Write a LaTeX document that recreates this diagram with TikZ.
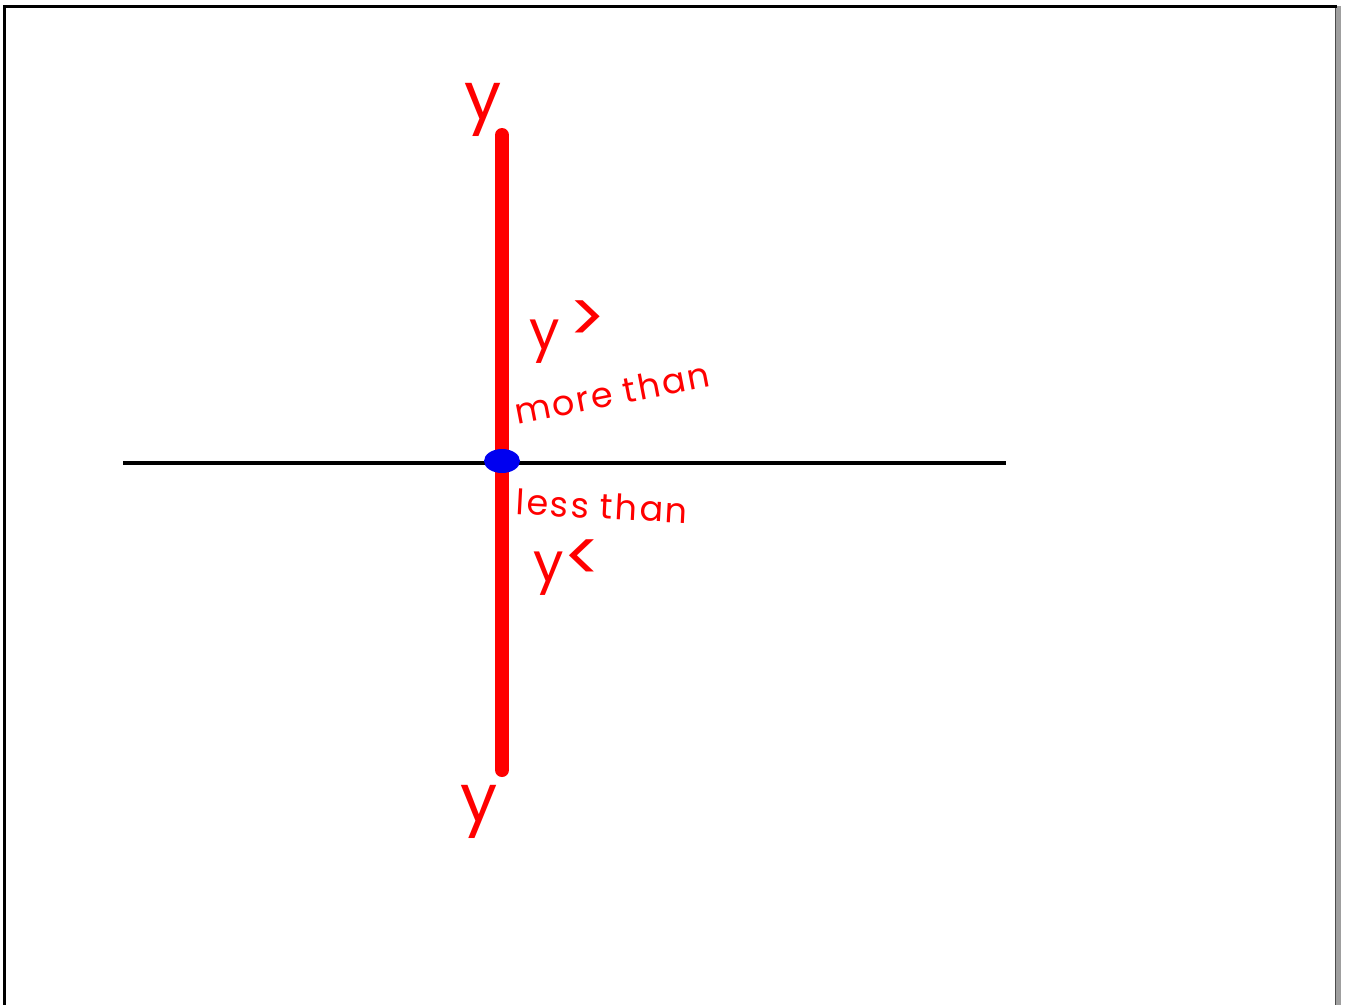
\documentclass[tikz,border=0pt]{standalone}
\usepackage{fontspec}
\setmainfont{Poppins}
\newfontfamily\handsp[LetterSpace=6]{Poppins}
\usetikzlibrary{shapes.geometric}
\definecolor{pen}{RGB}{255,0,0}
\definecolor{dot}{RGB}{0,0,240}
\tikzset{
  hand/.style={text=pen, inner sep=0pt, font=\handsp\fontsize{35}{38}\selectfont},
  bigy/.style={text=pen, inner sep=0pt, font=\fontsize{66}{68}\selectfont},
  rel/.style={text=pen, inner sep=0pt, font=\fontsize{54}{56}\selectfont},
}
\begin{document}
\begin{tikzpicture}[x=1pt,y=-1pt]
\useasboundingbox (0,0) rectangle (1345,1005);
% frame
\fill[gray!75] (1335,6) rectangle (1341,1005);
\draw[black!70,line width=1.2pt] (1335.5,6) -- (1335.5,1005);
\draw[black,line width=3pt] (3,6.5) -- (1337,6.5);
\draw[black,line width=3pt] (4.5,5) -- (4.5,1005);
% axes
\coordinate (xl) at (123,463);
\coordinate (xr) at (1006,463);
\coordinate (yt) at (502,135);
\coordinate (yb) at (502,770);
\draw[black,line width=4pt] (xl) -- (xr);
\draw[pen,line width=14pt,line cap=round] (yt) -- (yb);
\node[draw=none,fill=dot,ellipse,minimum width=36pt,minimum height=24pt,inner sep=0pt] (o) at (502,461) {};
% labels
\node[bigy,anchor=center] (ytop) at (483,110) {y};
\node[bigy,anchor=center] (ybot) at (479,812) {y};
\node[rel,anchor=center] (ygt) at (568,332) {y\,\raisebox{7pt}{\scalebox{1.3}{>}}};
\node[hand,anchor=center,rotate=11] (more) at (612,393) {more than};
\node[hand,anchor=center,rotate=-3] (less) at (602,506) {less than};
\node[rel,anchor=center] (ylt) at (568,568) {y\scalebox{1.3}{<}};
\end{tikzpicture}
\end{document}
